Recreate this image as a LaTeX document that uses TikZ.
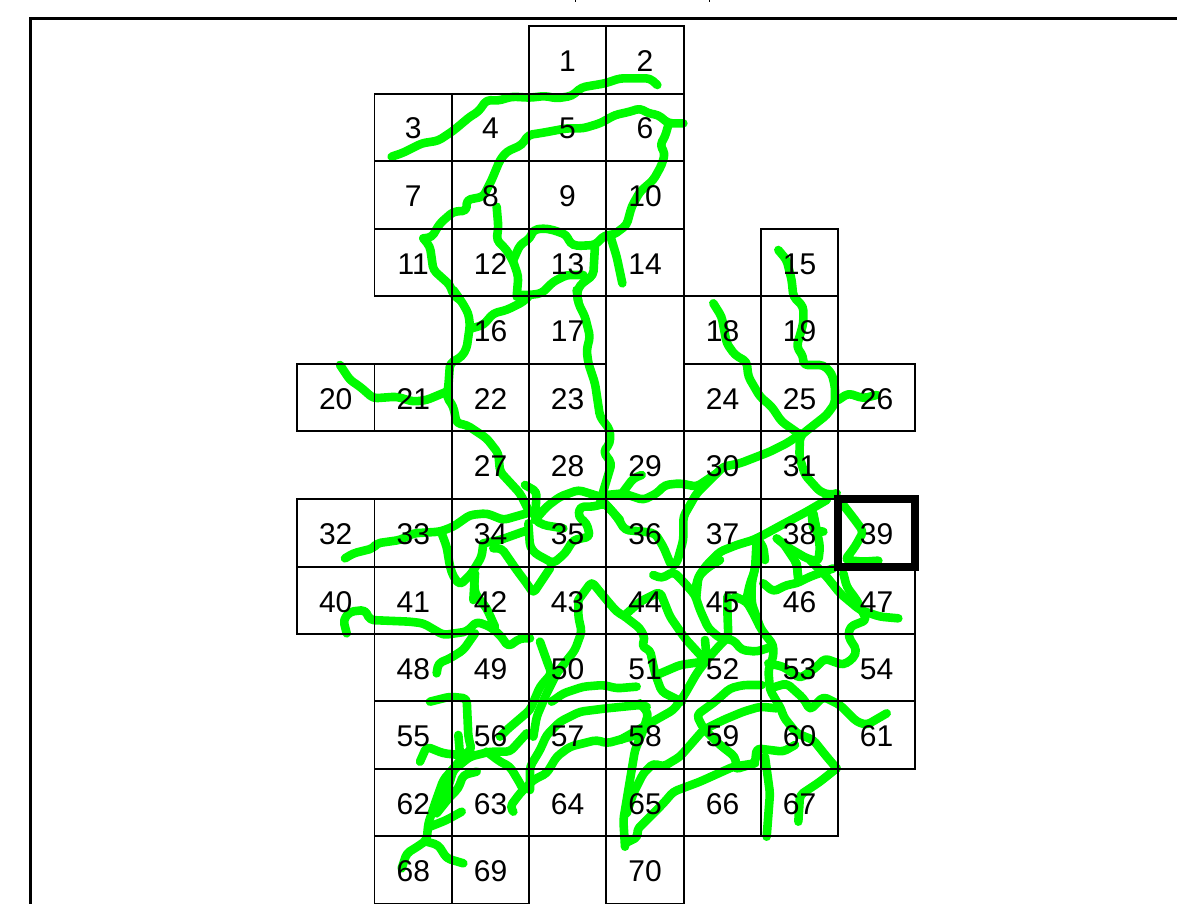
\documentclass[tikz,border=0pt]{standalone}
\usepackage{fontspec}
\setmainfont{Liberation Sans}
\definecolor{trailgreen}{RGB}{0,250,0}
\tikzset{
  trail/.style={draw=trailgreen,line width=8.6pt,line cap=round,line join=round,rounded corners=4pt},
  cell/.style={draw=black,line width=1.1pt,inner sep=0pt,outer sep=0pt,font=\fontsize{30}{30}\selectfont},
  zoomat/.style 2 args={shift={(#1,#2)},x=.33333pt,y=-.33333pt},
  frameline/.style={draw=black,line width=2.4pt,line cap=butt},
  marked/.style={draw=black,line width=7.5pt,line join=miter}
}
\begin{document}
\begin{tikzpicture}[x=1pt,y=-1pt]
\useasboundingbox (0,0) rectangle (1177,904);
% frame
\draw[frameline] (30.5,904) -- (30.5,18.5) -- (1177,18.5);
\draw[line width=1.6pt] (575.5,0) -- (575.5,2.5);
\draw[line width=1.6pt] (709.5,0) -- (709.5,2.5);
% green trails, traced in 3x crop coordinates
\begin{scope}[zoomat={290}{0}]
\draw[trail] (305,470)--(340,458)--(395,430)--(445,422)--(490,392)--(540,350)--(565,335)--(590,300)--(625,302)--(665,290)--(720,293)--(765,288)--(800,295)--(845,288)--(875,262)--(945,250)--(990,235)--(1080,235)--(1102,255);
\draw[trail] (400,715)--(425,712)--(450,670)--(490,635)--(530,632)--(530,600)--(580,590)--(605,540)--(630,480)--(650,455)--(695,435)--(715,405)--(760,398)--(830,385)--(880,385)--(930,370)--(975,345)--(1020,335)--(1050,325)--(1075,340)--(1105,345)--(1135,370)--(1180,370);
\draw[trail] (1135,375)--(1125,410)--(1110,435)--(1125,460)--(1115,495)--(1090,540)--(1050,575)--(1025,620)--(1010,675)--(970,705)--(945,705)--(915,735)--(860,738)--(840,730)--(830,705)--(790,690)--(760,685)--(730,690)--(720,715)--(690,735)--(670,780);
\draw[trail] (960,705)--(980,770)--(997,850);
\draw[trail] (915,735)--(910,825)--(870,855)--(860,880)--(865,905);
\draw[trail] (620,620)--(625,680)--(620,720)--(650,750)--(670,785)--(685,830)--(680,890);
\draw[trail] (880,825)--(830,825)--(790,845)--(755,880)--(720,885)--(690,885);
\draw[trail] (400,715)--(420,740)--(430,810)--(480,855)--(490,885)--(510,900);
\end{scope}
\begin{scope}[zoomat={290}{290}]
\draw[trail] (490,0)--(515,35)--(535,70)--(540,105)--(530,175)--(515,200)--(480,220)--(475,290)--(470,320)--(490,350)--(500,400)--(530,405)--(590,445)--(625,490)--(630,545)--(690,610)--(710,650)--(720,670);
\draw[trail] (545,115)--(580,105)--(610,70)--(650,60)--(700,35)--(715,20);
\draw[trail] (150,225)--(180,270)--(210,290)--(250,325)--(320,320)--(370,335)--(410,330)--(470,305);
\draw[trail] (860,0)--(865,40)--(885,80)--(900,140)--(890,180)--(895,220)--(915,280)--(930,380)--(960,420)--(960,460)--(940,485)--(965,520)--(950,570)--(935,620)--(930,640);
\draw[trail] (935,615)--(990,615);
\draw[trail] (930,620)--(865,600)--(810,620)--(770,650)--(735,690);
\draw[trail] (705,585)--(740,605)--(735,690)--(760,705)--(790,710)--(820,715);
\draw[trail] (165,805)--(190,790)--(250,775)--(260,760)--(330,750)--(370,730)--(450,725)--(490,710)--(540,675)--(590,670)--(640,690)--(710,670);
\draw[trail] (580,760)--(630,750)--(700,725)--(715,720);
\draw[trail] (580,760)--(575,800)--(545,850)--(510,885)--(490,860)--(480,830)--(470,770)--(455,730);
\draw[trail] (555,850)--(550,930);
\draw[trail] (610,775)--(635,775)--(680,840)--(710,880)--(730,910)--(780,835);
\draw[trail] (715,700)--(720,770)--(735,790)--(790,820)--(825,790)--(850,750)--(900,740)--(890,700)--(865,680)--(870,650)--(910,650)--(945,640)--(990,690);
\end{scope}
\begin{scope}[zoomat={600}{230}]
\draw[trail] (15,820)--(50,860)--(75,900)--(130,905)--(165,910)--(190,950)--(215,1010)--(230,1000)--(250,930)--(250,860)--(290,790)--(350,730)--(370,710)--(420,700)--(510,665)--(560,640)--(590,620)--(600,610);
\draw[trail] (535,60)--(560,90)--(575,150)--(580,200)--(610,230)--(610,280)--(590,350)--(610,380)--(610,405)--(670,405)--(695,430)--(705,470)--(705,520)--(680,555)--(610,610)--(600,620)--(598,680)--(615,735)--(660,785)--(690,795)--(710,790);
\draw[trail] (340,220)--(365,260)--(380,340)--(405,375)--(440,395)--(445,440)--(480,500)--(515,530)--(545,575)--(595,610);
\draw[trail] (715,510)--(745,490)--(790,505)--(830,495);
\draw[trail] (20,795)--(70,790)--(130,810)--(170,790)--(195,765)--(240,760)--(290,770)--(350,730);
\draw[trail] (70,785)--(100,745)--(125,735);
\draw[trail] (680,810)--(620,845)--(545,885)--(490,915)--(460,930)--(410,945)--(360,965)--(320,1005)--(295,1040)--(285,1080)--(290,1100);
\draw[trail] (470,930)--(465,1020)--(450,1060)--(440,1105);
\draw[trail] (470,925)--(490,950)--(495,990);
\draw[trail] (635,850)--(640,900)--(670,905);
\draw[trail] (640,850)--(660,950)--(655,995)--(620,985)--(560,950)--(530,925);
\draw[trail] (550,940)--(590,1000)--(595,1045);
\draw[trail] (730,825)--(765,870)--(790,905)--(765,950)--(735,990)--(790,995)--(835,992);
\end{scope}
\begin{scope}[zoomat={620}{560}]
\draw[trail] (100,45)--(125,55)--(160,35)--(190,65)--(225,105)--(240,150)--(265,205)--(300,235)--(340,240)--(365,270)--(410,275)--(450,262);
\draw[trail] (345,110)--(380,125)--(400,160)--(425,210)--(460,255)--(460,290)--(445,330)--(450,390)--(485,450)--(490,470)--(530,520)--(580,540)--(620,590)--(650,625);
\draw[trail] (322,110)--(322,150)--(325,230)--(300,255)--(260,300)--(230,340)--(190,410)--(160,450)--(80,495)--(0,540);
\draw[trail] (15,170)--(60,205)--(75,235)--(65,260)--(90,270)--(105,340)--(125,395)--(185,425);
\draw[trail] (15,165)--(60,125)--(120,95)--(150,170)--(195,235)--(250,295);
\draw[trail] (255,240)--(260,295);
\draw[trail] (110,345)--(180,315)--(250,305);
\draw[trail] (230,100)--(235,50)--(260,25)--(300,0);
\draw[trail] (410,0)--(395,70)--(395,130)--(420,200);
\draw[trail] (430,70)--(460,95)--(500,75)--(530,70)--(570,50)--(640,25);
\draw[trail] (535,60)--(530,10);
\draw[trail] (570,0)--(620,50)--(660,100)--(720,150)--(780,170)--(835,175);
\draw[trail] (670,40)--(680,80)--(710,120)--(740,180)--(690,200)--(685,230)--(710,270)--(700,295)--(670,315)--(640,305)--(615,295)--(585,325)--(540,355)--(490,320)--(445,310);
\draw[trail] (450,385)--(500,370)--(550,415)--(570,450)--(610,410)--(660,435)--(710,485)--(740,495)--(800,460);
\draw[trail] (425,375)--(370,375)--(330,385)--(285,425)--(230,465)--(250,505)--(300,555)--(345,590)--(350,625);
\draw[trail] (355,625)--(405,610)--(410,565)--(490,575)--(525,555);
\draw[trail] (470,445)--(420,440)--(370,455)--(310,480)--(250,510)--(180,590)--(130,620)--(100,610)--(70,640)--(40,700)--(20,760);
\draw[trail] (405,610)--(340,620)--(240,665)--(160,695)--(130,730)--(50,810)--(55,830)--(15,850);
\draw[trail] (60,430)--(85,460)--(70,510)--(45,570)--(30,660)--(10,780)--(15,860);
\draw[trail] (435,590)--(450,700)--(440,830);
\draw[trail] (650,625)--(600,665)--(540,705)--(535,785);
\end{scope}
\begin{scope}[zoomat={330}{570}]
\draw[trail] (50,190)--(40,150)--(60,125)--(105,120)--(120,150)--(240,155)--(280,160)--(340,195)--(410,185)--(440,155)--(480,170)--(510,195)--(535,230)--(570,205)--(600,205);
\draw[trail] (430,0)--(435,70)--(470,115)--(495,170);
\draw[trail] (435,190)--(400,240)--(360,265)--(325,280)--(320,310);
\draw[trail] (630,215)--(655,285)--(665,310)--(630,350)--(600,420)--(530,480)--(510,500);
\draw[trail] (745,90)--(785,35)--(830,90)--(860,125)--(885,140);
\draw[trail] (745,90)--(745,140)--(755,185)--(735,240)--(680,310)--(650,370)--(620,440)--(610,500);
\draw[trail] (920,350)--(860,355)--(820,345)--(760,350)--(700,370)--(665,395);
\draw[trail] (950,410)--(930,405)--(830,415)--(750,425)--(690,455)--(650,495)--(630,540)--(600,590)--(600,660);
\draw[trail] (920,495)--(830,520)--(800,510)--(720,530)--(680,560)--(650,610)--(610,630)--(570,670)--(540,710)--(550,725);
\draw[trail] (300,395)--(360,380)--(410,385)--(415,500)--(425,540)--(390,560);
\draw[trail] (270,575)--(290,530)--(340,550)--(390,555)--(385,495);
\draw[trail] (400,560)--(340,630)--(315,700)--(295,760)--(290,810)--(270,825)--(230,850)--(215,895);
\draw[trail] (590,490)--(540,545)--(480,545)--(420,560)--(370,600)--(340,700);
\draw[trail] (470,545)--(510,575)--(540,590)--(570,640)--(580,660);
\draw[trail] (440,605)--(400,615)--(385,655)--(360,680)--(320,730);
\draw[trail] (300,770)--(350,750)--(395,725);
\draw[trail] (290,815)--(325,825)--(350,865)--(400,880);
\end{scope}
% numbered cells
\foreach \n/\c/\r in {1/3/0,2/4/0,
  3/1/1,4/2/1,5/3/1,6/4/1,
  7/1/2,8/2/2,9/3/2,10/4/2,
  11/1/3,12/2/3,13/3/3,14/4/3,15/6/3,
  16/2/4,17/3/4,18/5/4,19/6/4,
  20/0/5,21/1/5,22/2/5,23/3/5,24/5/5,25/6/5,26/7/5,
  27/2/6,28/3/6,29/4/6,30/5/6,31/6/6,
  32/0/7,33/1/7,34/2/7,35/3/7,36/4/7,37/5/7,38/6/7,39/7/7,
  40/0/8,41/1/8,42/2/8,43/3/8,44/4/8,45/5/8,46/6/8,47/7/8,
  48/1/9,49/2/9,50/3/9,51/4/9,52/5/9,53/6/9,54/7/9,
  55/1/10,56/2/10,57/3/10,58/4/10,59/5/10,60/6/10,61/7/10,
  62/1/11,63/2/11,64/3/11,65/4/11,66/5/11,67/6/11,
  68/1/12,69/2/12,70/4/12}{
  \pgfmathsetmacro{\xa}{{297,374.5,452,529,606,684,761,838,915}[\c]}
  \pgfmathsetmacro{\xb}{{297,374.5,452,529,606,684,761,838,915}[\c+1]}
  \pgfmathsetmacro{\ya}{{26,94,161,229,296,364,431,499,567,634,701,769,836,904}[\r]}
  \pgfmathsetmacro{\yb}{{26,94,161,229,296,364,431,499,567,634,701,769,836,904}[\r+1]}
  \pgfmathsetmacro{\cellw}{\xb-\xa}
  \pgfmathsetmacro{\cellh}{\yb-\ya}
  \node[cell,minimum width=\cellw pt,minimum height=\cellh pt] (c\n) at ({(\xa+\xb)/2},{(\ya+\yb)/2}) {\raisebox{-1pt}[21pt][0pt]{\n}};
}
% highlighted cell
\draw[marked] (c39.south west) rectangle (c39.north east);
\end{tikzpicture}
\end{document}
